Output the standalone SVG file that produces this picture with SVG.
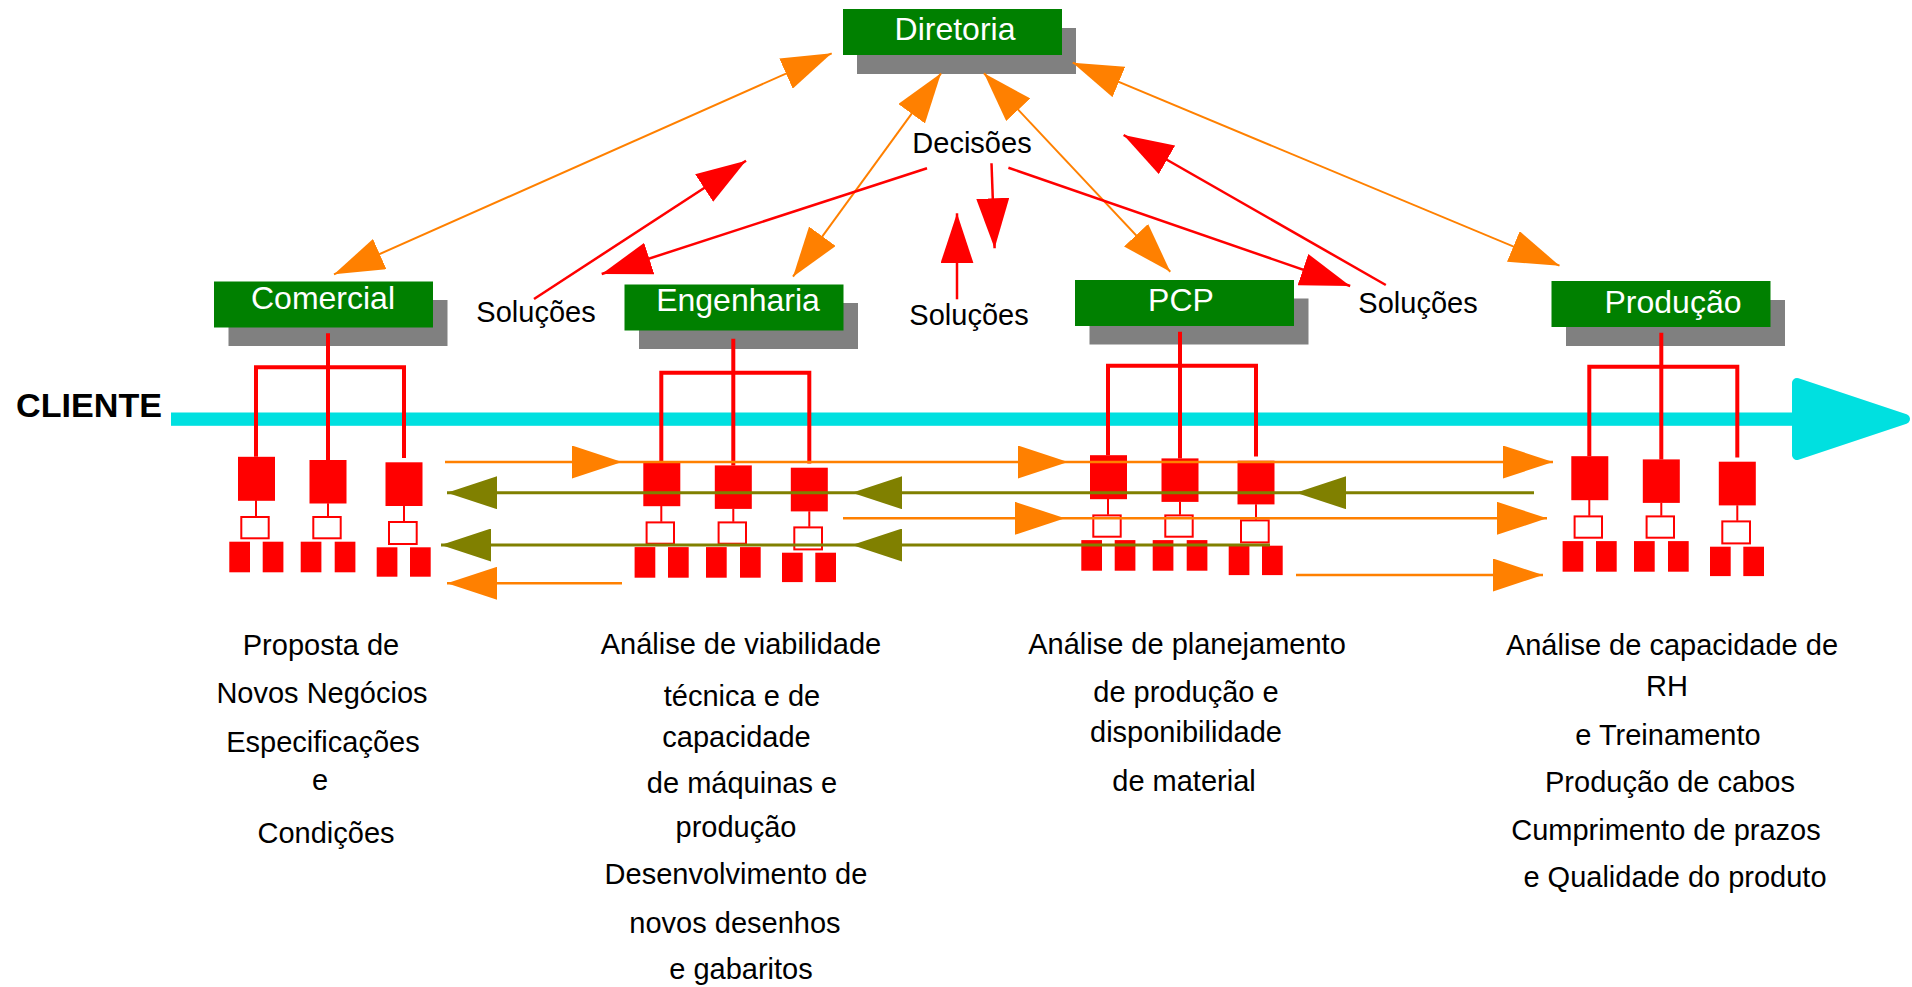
<svg xmlns="http://www.w3.org/2000/svg" xmlns:xlink="http://www.w3.org/1999/xlink" width="1912" height="987" viewBox="0 0 1912 987">
  <style>
    text { font-family: "Liberation Sans", Arial, Helvetica, sans-serif; }
    .lbl { font-size: 29px; fill: #000000; text-anchor: middle; }
    .title { font-size: 32px; fill: #ffffff; text-anchor: middle; }
    .client { font-size: 33px; font-weight: bold; fill: #000000; }
    .shadow { fill: #808080; }
    .head { fill: #008000; }
    .tree { fill: none; stroke: #ff0000; stroke-width: 4; stroke-linejoin: miter; }
    .thin { fill: none; stroke: #ff0000; stroke-width: 2; }
    .unit { fill: #ff0000; }
    .slot { fill: #ffffff; stroke: #ff0000; stroke-width: 2; }
    .or-top { stroke: #ff8000; stroke-width: 2; fill: none; }
    .or-mid { stroke: #ff8000; stroke-width: 2.5; fill: none; }
    .ol-mid { stroke: #808000; stroke-width: 3; fill: none; }
    .rd { stroke: #ff0000; stroke-width: 2.5; fill: none; }
  </style>
  <defs>
    <marker id="tipOrange" markerUnits="userSpaceOnUse" viewBox="0 0 50 33" markerWidth="50" markerHeight="33" refX="50" refY="16.5" orient="auto-start-reverse">
      <path d="M0,0 L50,16.5 L0,33 Z" fill="#ff8000"/>
    </marker>
    <marker id="tipRed" markerUnits="userSpaceOnUse" viewBox="0 0 50 33" markerWidth="50" markerHeight="33" refX="50" refY="16.5" orient="auto-start-reverse">
      <path d="M0,0 L50,16.5 L0,33 Z" fill="#ff0000"/>
    </marker>
    <marker id="tipOlive" markerUnits="userSpaceOnUse" viewBox="0 0 50 33" markerWidth="50" markerHeight="33" refX="50" refY="16.5" orient="auto-start-reverse">
      <path d="M0,0 L50,16.5 L0,33 Z" fill="#808000"/>
    </marker>

    <!-- small organisation chart placed under each department; origin = stem x, bar y -->
    <g id="org">
      <path class="tree" d="M-72,89.5 V0 H76 V90.7 M0,-34 V92.7"/>
      <path class="thin" d="M-72,133 V149 M0,136 V149 M76,138.5 V154"/>
      <rect class="unit" x="-90" y="89.5" width="37" height="44"/>
      <rect class="unit" x="-18.5" y="92.7" width="37" height="43.5"/>
      <rect class="unit" x="57.5" y="95" width="37" height="43.7"/>
      <rect class="slot" x="-86.7" y="149.7" width="27.4" height="21.3"/>
      <rect class="slot" x="-14.7" y="149.7" width="27.4" height="21.3"/>
      <rect class="slot" x="61" y="154.7" width="27.7" height="22"/>
      <rect class="unit" x="-98.7" y="174.4" width="20.7" height="30.6"/>
      <rect class="unit" x="-65.3" y="174.4" width="20.7" height="30.6"/>
      <rect class="unit" x="-27.3" y="174.4" width="20.7" height="30.6"/>
      <rect class="unit" x="6.7" y="174.4" width="20.7" height="30.6"/>
      <rect class="unit" x="48.7" y="180" width="20.7" height="29.4"/>
      <rect class="unit" x="82" y="180" width="20.7" height="29.4"/>
    </g>
  </defs>

  <rect width="1912" height="987" fill="#ffffff"/>

  <!-- customer flow -->
  <g id="cliente">
    <text class="client" x="16" y="417" textLength="146" lengthAdjust="spacingAndGlyphs">CLIENTE</text>
    <rect x="171" y="412.5" width="1630" height="13.3" fill="#00e0e0"/>
    <path d="M1797,383 L1905,419 L1797,455 Z" fill="#00e0e0" stroke="#00e0e0" stroke-width="10" stroke-linejoin="round"/>
  </g>

  <!-- Diretoria -->
  <g id="diretoria">
    <rect class="shadow" x="857" y="28" width="219" height="46"/>
    <rect class="head" x="843" y="9" width="219" height="46"/>
    <text class="title" x="955" y="40">Diretoria</text>
  </g>

  <!-- Comercial -->
  <g id="comercial">
    <rect class="shadow" x="228.5" y="300" width="219" height="46"/>
    <rect class="head" x="214" y="281.5" width="219" height="46"/>
    <text class="title" x="323" y="309">Comercial</text>
    <use xlink:href="#org" href="#org" transform="translate(328,367.3)"/>
    <text class="lbl">
      <tspan x="325" y="655">Proposta de</tspan>
      <tspan x="326" y="703">Novos Negócios</tspan>
      <tspan x="327" y="752">Especificações</tspan>
      <tspan x="324" y="790">e</tspan>
      <tspan x="326" y="843">Condições</tspan>
    </text>
  </g>

  <!-- Engenharia -->
  <g id="engenharia">
    <rect class="shadow" x="639" y="303" width="219" height="46"/>
    <rect class="head" x="624.5" y="284.5" width="219" height="46"/>
    <text class="title" x="738" y="311">Engenharia</text>
    <use xlink:href="#org" href="#org" transform="translate(733.3,372.7)"/>
    <text class="lbl">
      <tspan x="745" y="654">Análise de viabilidade</tspan>
      <tspan x="746" y="706">técnica e de</tspan>
      <tspan x="740.5" y="747">capacidade</tspan>
      <tspan x="746" y="793">de máquinas e</tspan>
      <tspan x="740" y="837">produção</tspan>
      <tspan x="740" y="884">Desenvolvimento de</tspan>
      <tspan x="739" y="933">novos desenhos</tspan>
      <tspan x="741" y="979">e gabaritos</tspan>
    </text>
  </g>

  <!-- PCP -->
  <g id="pcp">
    <rect class="shadow" x="1089.5" y="298.5" width="219" height="46"/>
    <rect class="head" x="1075" y="280" width="219" height="46"/>
    <text class="title" x="1181" y="311">PCP</text>
    <use xlink:href="#org" href="#org" transform="translate(1180,365.7)"/>
    <text class="lbl">
      <tspan x="1191" y="654">Análise de planejamento</tspan>
      <tspan x="1190" y="702">de produção e</tspan>
      <tspan x="1190" y="742">disponibilidade</tspan>
      <tspan x="1184" y="791">de material</tspan>
    </text>
  </g>

  <!-- Produção -->
  <g id="producao">
    <rect class="shadow" x="1566" y="300" width="219" height="46"/>
    <rect class="head" x="1551.5" y="281" width="219" height="46"/>
    <text class="title" x="1673" y="313">Produção</text>
    <use xlink:href="#org" href="#org" transform="translate(1661.3,366.7)"/>
    <text class="lbl">
      <tspan x="1676" y="655">Análise de capacidade de</tspan>
      <tspan x="1671" y="696">RH</tspan>
      <tspan x="1672" y="745">e Treinamento</tspan>
      <tspan x="1674" y="792">Produção de cabos</tspan>
      <tspan x="1670" y="840">Cumprimento de prazos</tspan>
      <tspan x="1675" y="887">e Qualidade do produto</tspan>
    </text>
  </g>

  <!-- free labels -->
  <g id="labels">
    <text class="lbl" x="972" y="153">Decisões</text>
    <text class="lbl" x="536" y="322">Soluções</text>
    <text class="lbl" x="969" y="325">Soluções</text>
    <text class="lbl" x="1418" y="313">Soluções</text>
  </g>

  <g id="connectors">
    <!-- Diretoria to each department, two-way -->
    <line class="or-top" x1="334" y1="274.3" x2="831.7" y2="53.3" marker-start="url(#tipOrange)" marker-end="url(#tipOrange)"/>
    <line class="or-top" x1="793" y1="276.7" x2="941" y2="73.3" marker-start="url(#tipOrange)" marker-end="url(#tipOrange)"/>
    <line class="or-top" x1="1170.3" y1="271.7" x2="984" y2="73.3" marker-start="url(#tipOrange)" marker-end="url(#tipOrange)"/>
    <line class="or-top" x1="1559.5" y1="265.7" x2="1072.7" y2="62.7" marker-start="url(#tipOrange)" marker-end="url(#tipOrange)"/>

    <!-- decisions and solutions -->
    <line class="rd" x1="534" y1="299" x2="746" y2="160.7" marker-end="url(#tipRed)"/>
    <line class="rd" x1="927" y1="168.3" x2="601.7" y2="274" marker-end="url(#tipRed)"/>
    <line class="rd" x1="991.5" y1="163.3" x2="994.6" y2="248.3" marker-end="url(#tipRed)"/>
    <line class="rd" x1="957" y1="299.3" x2="957" y2="213.3" marker-end="url(#tipRed)"/>
    <line class="rd" x1="1008.4" y1="167.7" x2="1350.2" y2="286" marker-end="url(#tipRed)"/>
    <line class="rd" x1="1385.8" y1="285" x2="1123.6" y2="135" marker-end="url(#tipRed)"/>

    <!-- flows between departments -->
    <line class="or-mid" x1="445" y1="462" x2="622" y2="462" marker-end="url(#tipOrange)"/>
    <line class="or-mid" x1="622" y1="462" x2="1068" y2="462" marker-end="url(#tipOrange)"/>
    <line class="or-mid" x1="1068" y1="462" x2="1553" y2="462" marker-end="url(#tipOrange)"/>

    <line class="ol-mid" x1="1534" y1="492.7" x2="1296" y2="492.7" marker-end="url(#tipOlive)"/>
    <line class="ol-mid" x1="1296" y1="492.7" x2="852" y2="492.7" marker-end="url(#tipOlive)"/>
    <line class="ol-mid" x1="852" y1="492.7" x2="447" y2="492.7" marker-end="url(#tipOlive)"/>

    <line class="or-mid" x1="843" y1="518.3" x2="1065" y2="518.3" marker-end="url(#tipOrange)"/>
    <line class="or-mid" x1="1065" y1="518.3" x2="1547" y2="518.3" marker-end="url(#tipOrange)"/>

    <line class="ol-mid" x1="1270" y1="545" x2="852" y2="545" marker-end="url(#tipOlive)"/>
    <line class="ol-mid" x1="852" y1="545" x2="441" y2="545" marker-end="url(#tipOlive)"/>

    <line class="or-mid" x1="1296" y1="575" x2="1543" y2="575" marker-end="url(#tipOrange)"/>
    <line class="or-mid" x1="622" y1="583.3" x2="447" y2="583.3" marker-end="url(#tipOrange)"/>
  </g>
</svg>
